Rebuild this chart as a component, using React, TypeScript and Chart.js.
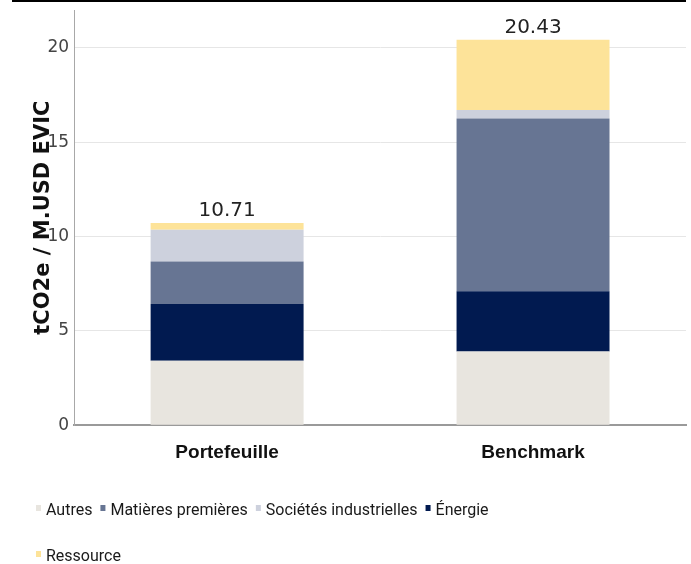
import React, { useEffect, useRef } from "react";
import { Chart, registerables } from "chart.js";

Chart.register(...registerables);

// ---- data ----
const categories = ["Portefeuille", "Benchmark"];
const autres = [3.41, 3.9];
const energie = [3.01, 3.2];
const matieres = [2.25, 9.16];
const societes = [1.69, 0.44];
const ressource = [0.35, 3.73];
const yTickValues = [0, 5, 10, 15, 20];
const yAxisTitle = "tCO2e / M.USD EVIC";
const legendOrder = [
  "Autres",
  "Matières premières",
  "Sociétés industrielles",
  "Énergie",
  "Ressource",
];

const COLORS: Record<string, string> = {
  Autres: "#E8E5DF",
  "Énergie": "#011A50",
  "Matières premières": "#677593",
  "Sociétés industrielles": "#CDD1DD",
  Ressource: "#FDE399",
};

const totalsPlugin = {
  id: "totals",
  afterDatasetsDraw(chart: any) {
    const ctx = chart.ctx;
    const xs = chart.scales.x;
    const ys = chart.scales.y;
    ctx.save();
    ctx.font = '20px "DejaVu Sans", sans-serif';
    ctx.fillStyle = "#222";
    ctx.textAlign = "center";
    ctx.textBaseline = "alphabetic";
    chart.data.labels.forEach((_: any, i: number) => {
      const total = chart.data.datasets.reduce(
        (s: number, d: any) => s + (d.data[i] as number),
        0
      );
      const x = xs.getPixelForValue(i);
      const y = ys.getPixelForValue(total);
      ctx.fillText(total.toFixed(2), x, y - 7);
    });
    ctx.restore();
  },
};

const legendPlugin = {
  id: "customLegend",
  afterDraw(chart: any) {
    const ctx = chart.ctx;
    const left = 36;
    const maxRight = 560;
    const rowH = 46;
    const boxW = 5;
    const boxH = 6;
    const boxGap = 5;
    const itemGap = 8;
    let x = left;
    let y = chart.height - 49; // baseline of first row
    ctx.save();
    ctx.font = '16px Roboto, "Liberation Sans", sans-serif';
    ctx.textBaseline = "alphabetic";
    ctx.textAlign = "left";
    legendOrder.forEach((name) => {
      const ds = chart.data.datasets.find((d: any) => d.label === name);
      if (!ds) return;
      const tw = ctx.measureText(name).width;
      const w = boxW + boxGap + tw;
      if (x > left && x + w > maxRight) {
        x = left;
        y += rowH;
      }
      ctx.fillStyle = ds.backgroundColor;
      ctx.fillRect(x, y - 10, boxW, boxH);
      ctx.fillStyle = "#1a1a1a";
      ctx.fillText(name, x + boxW + boxGap, y);
      x += w + itemGap;
    });
    ctx.restore();
  },
};

export default function App() {
  const ref = useRef<HTMLCanvasElement | null>(null);
  useEffect(() => {
    if (!ref.current) return;
    const mk = (label: string, data: number[]) => ({
      label,
      data,
      backgroundColor: COLORS[label],
      borderWidth: 0,
      stack: "s",
    });
    const chart = new Chart(ref.current, {
      type: "bar",
      data: {
        labels: categories,
        datasets: [
          mk("Autres", autres),
          mk("Énergie", energie),
          mk("Matières premières", matieres),
          mk("Sociétés industrielles", societes),
          mk("Ressource", ressource),
        ],
      },
      options: {
        animation: false,
        responsive: true,
        maintainAspectRatio: false,
        layout: { padding: { left: 28.5, right: 5, top: 10, bottom: 83 } },
        datasets: { bar: { categoryPercentage: 1, barPercentage: 0.5 } },
        plugins: {
          legend: { display: false },
          tooltip: { enabled: false },
        },
        scales: {
          x: {
            stacked: true,
            grid: { display: false, drawTicks: false },
            border: { display: true, color: "#9a9a9a", width: 2 },
            ticks: {
              padding: 16.5,
              color: "#111",
              font: { family: '"Liberation Sans", Arial, sans-serif', size: 19, weight: "bold" },
            },
          },
          y: {
            stacked: true,
            min: 0,
            max: 22,
            afterBuildTicks: (axis: any) => {
              axis.ticks = yTickValues.map((v) => ({ value: v }));
            },
            grid: { color: "#e6e6e6", lineWidth: 1, drawTicks: false },
            border: { display: true, color: "#a8a8a8", width: 1 },
            ticks: {
              padding: 5,
              color: "#444",
              font: { family: '"DejaVu Sans", sans-serif', size: 17, lineHeight: 0.6 },
            },
            title: {
              display: true,
              text: yAxisTitle,
              color: "#111",
              padding: { top: 8, bottom: -8 },
              font: {
                family: '"DejaVu Sans", sans-serif',
                size: 21,
                weight: "bold",
                lineHeight: 0.667,
              },
            },
          },
        },
      },
      plugins: [totalsPlugin, legendPlugin],
    });
    return () => chart.destroy();
  }, []);

  return (
    <div style={{ position: "absolute", left: 0, top: 0, width: 691, height: 564, background: "#fff" }}>
      <canvas ref={ref} />
      <div
        style={{
          position: "absolute",
          left: 12,
          top: 0,
          width: 674,
          height: 2,
          background: "#000",
        }}
      />
    </div>
  );
}
